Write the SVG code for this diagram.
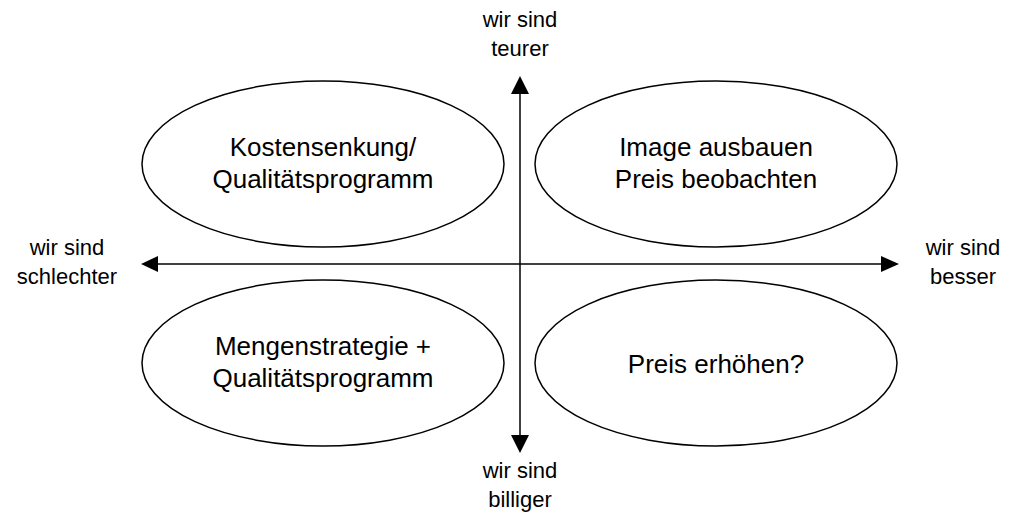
<svg xmlns="http://www.w3.org/2000/svg" width="1017" height="516" viewBox="0 0 1017 516">
  <defs>
    <style>
      .node ellipse { fill: #ffffff; stroke: #000000; stroke-width: 1.5; }
      .node text { font-family: "Liberation Sans", Arial, sans-serif; font-size: 26px; fill: #000000; text-anchor: middle; }
      .axis line { stroke: #000000; stroke-width: 1.5; }
      .axis polygon { fill: #000000; }
      .label { font-family: "Liberation Sans", Arial, sans-serif; font-size: 22px; fill: #000000; text-anchor: middle; }
    </style>
  </defs>
  <rect width="1017" height="516" fill="#ffffff"/>

  <!-- quadrant nodes -->
  <g id="kostensenkung" class="node">
    <ellipse cx="323" cy="164" rx="181" ry="83"/>
    <text x="323" y="156">Kostensenkung/</text>
    <text x="323" y="188">Qualitätsprogramm</text>
  </g>
  <g id="image-ausbauen" class="node">
    <ellipse cx="716" cy="164" rx="181" ry="83"/>
    <text x="716" y="156">Image ausbauen</text>
    <text x="716" y="188">Preis beobachten</text>
  </g>
  <g id="mengenstrategie" class="node">
    <ellipse cx="323" cy="363" rx="181" ry="83"/>
    <text x="323" y="355">Mengenstrategie +</text>
    <text x="323" y="387">Qualitätsprogramm</text>
  </g>
  <g id="preis-erhoehen" class="node">
    <ellipse cx="716" cy="363" rx="181" ry="83"/>
    <text x="716" y="373">Preis erhöhen?</text>
  </g>

  <!-- axes -->
  <g id="connectors" class="axis">
    <line x1="520" y1="92" x2="520" y2="436"/>
    <polygon points="520,76 511,94 529,94"/>
    <polygon points="520,453 511,435 529,435"/>
    <line x1="156" y1="264" x2="883" y2="264"/>
    <polygon points="141,264 158,256 158,272"/>
    <polygon points="899,264 881,256 881,272"/>
  </g>

  <!-- axis labels -->
  <g id="label-top">
    <text class="label" x="520" y="27">wir sind</text>
    <text class="label" x="520" y="56">teurer</text>
  </g>
  <g id="label-bottom">
    <text class="label" x="520" y="478">wir sind</text>
    <text class="label" x="520" y="507">billiger</text>
  </g>
  <g id="label-left">
    <text class="label" x="67" y="255">wir sind</text>
    <text class="label" x="67" y="284">schlechter</text>
  </g>
  <g id="label-right">
    <text class="label" x="963" y="255">wir sind</text>
    <text class="label" x="963" y="284">besser</text>
  </g>
</svg>
